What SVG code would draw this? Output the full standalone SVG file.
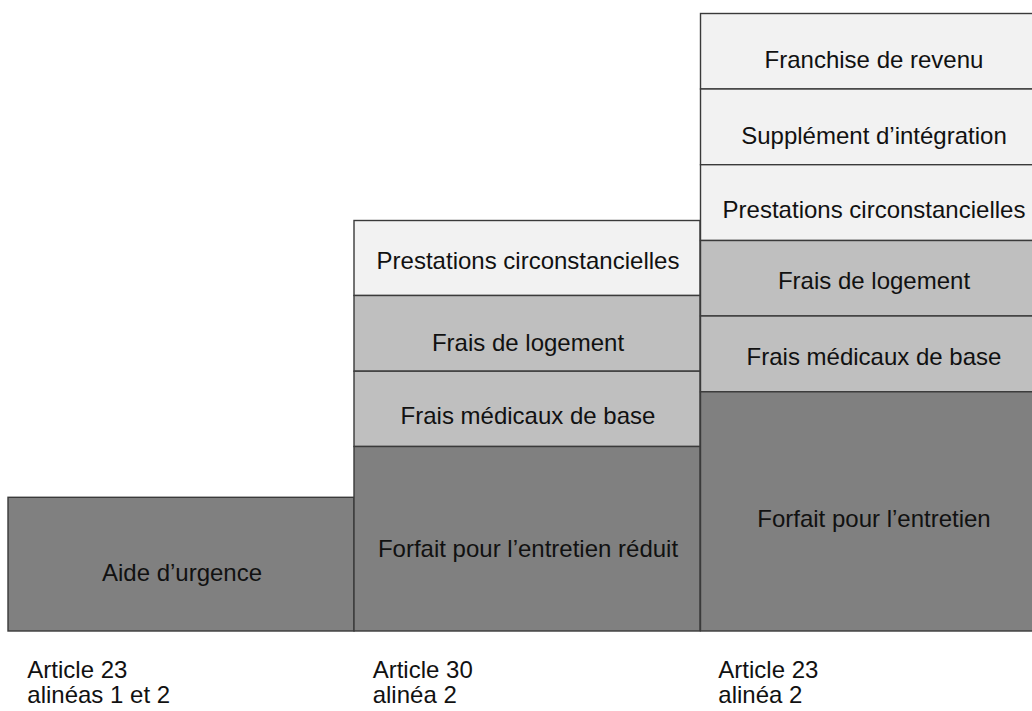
<svg xmlns="http://www.w3.org/2000/svg" width="1032" height="711" viewBox="0 0 1032 711">
<style>
rect{stroke:#3a3a3a;stroke-width:1.4}
.l{fill:#f2f2f2}.m{fill:#bfbfbf}.d{fill:#808080}
text{font-family:"Liberation Sans",Arial,sans-serif;font-size:24px;fill:#111}
.c{text-anchor:middle}
</style>
<rect width="1032" height="711" fill="#fff" style="stroke:none"/>
<g id="col1">
<g id="aide-urgence"><rect class="d" x="8" y="497.3" width="346" height="133.7"/><text class="c" x="182" y="580.7">Aide d’urgence</text></g>
</g>
<g id="col2">
<g id="c2-prestations"><rect class="l" x="354" y="220.5" width="346" height="75"/><text class="c" x="528" y="269.3">Prestations circonstancielles</text></g>
<g id="c2-logement"><rect class="m" x="354" y="295.5" width="346" height="75.7"/><text class="c" x="528" y="350.5">Frais de logement</text></g>
<g id="c2-medicaux"><rect class="m" x="354" y="371.2" width="346" height="75.3"/><text class="c" x="528" y="424.3">Frais médicaux de base</text></g>
<g id="c2-forfait"><rect class="d" x="354" y="446.5" width="346" height="184.5"/><text class="c" x="528" y="556.7">Forfait pour l’entretien réduit</text></g>
</g>
<g id="col3">
<g id="c3-franchise"><rect class="l" x="700.5" y="13.5" width="347" height="75.5"/><text class="c" x="874" y="68.3">Franchise de revenu</text></g>
<g id="c3-supplement"><rect class="l" x="700.5" y="89" width="347" height="75.7"/><text class="c" x="874" y="144">Supplément d’intégration</text></g>
<g id="c3-prestations"><rect class="l" x="700.5" y="164.7" width="347" height="75.8"/><text class="c" x="874" y="218.3">Prestations circonstancielles</text></g>
<g id="c3-logement"><rect class="m" x="700.5" y="240.5" width="347" height="75.5"/><text class="c" x="874" y="289.3">Frais de logement</text></g>
<g id="c3-medicaux"><rect class="m" x="700.5" y="316" width="347" height="75.8"/><text class="c" x="874" y="365">Frais médicaux de base</text></g>
<g id="c3-forfait"><rect class="d" x="700.5" y="391.8" width="347" height="239.2"/><text class="c" x="874" y="526.7">Forfait pour l’entretien</text></g>
</g>
<g id="connectors"></g>
<g id="labels">
<g id="label1"><text x="27.3" y="678">Article 23</text><text x="27.3" y="703">alinéas 1 et 2</text></g>
<g id="label2"><text x="372.7" y="678">Article 30</text><text x="372.7" y="703">alinéa 2</text></g>
<g id="label3"><text x="718.3" y="678">Article 23</text><text x="718.3" y="703">alinéa 2</text></g>
</g>
</svg>
